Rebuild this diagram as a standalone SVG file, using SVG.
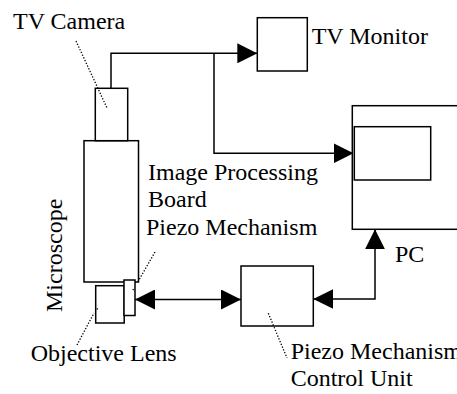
<svg xmlns="http://www.w3.org/2000/svg" width="457" height="394" viewBox="0 0 457 394" font-family="'Liberation Serif', 'Times New Roman', 'DejaVu Serif', serif" font-size="24">
<defs>
<style>
.box{fill:#fff;stroke:#000;stroke-width:1.5}
.ln{fill:none;stroke:#000;stroke-width:1.5}
.dot{fill:none;stroke:#000;stroke-width:1.3;stroke-dasharray:1.3 1.7}
.t{font-family:'Liberation Serif','Times New Roman',serif;font-size:24px;fill:#000}
</style>
<marker id="ah" viewBox="0 0 20 20" markerUnits="userSpaceOnUse" markerWidth="20" markerHeight="20" refX="20" refY="10" orient="auto-start-reverse">
<path d="M0,0 L20,10 L0,20 z" fill="#000"/>
</marker>
</defs>
<rect width="457" height="394" fill="#fff"/>
<g id="connectors">
<path class="ln" d="M111,88.3 V53.3 H257.3" marker-end="url(#ah)"/>
<path class="ln" d="M214,53.3 V153.3 H353.5" marker-end="url(#ah)"/>
<path class="ln" d="M135,299.5 H241" marker-start="url(#ah)" marker-end="url(#ah)"/>
<path class="ln" d="M313.3,299 H375 V229.3" marker-start="url(#ah)" marker-end="url(#ah)"/>
</g>
<g id="microscope">
<rect class="box" x="84" y="140.7" width="54.5" height="141.3"/>
<text class="t" transform="translate(62,312) rotate(-90)">Microscope</text>
</g>
<g id="tv-camera">
<rect class="box" x="95.3" y="88.3" width="32.4" height="52.4"/>
<path class="dot" d="M76,41 L107,108"/>
<text class="t" x="13" y="29">TV Camera</text>
</g>
<g id="objective-lens">
<rect class="box" x="95.7" y="285.7" width="28.5" height="37.3"/>
<path class="dot" d="M77,345 L94,313"/>
<path class="dot" d="M97,309.5 L98.2,307.5"/>
<text class="t" x="30.7" y="360.7">Objective Lens</text>
</g>
<g id="piezo-mechanism">
<rect class="box" x="124" y="280" width="11" height="35.5"/>
<path class="dot" d="M155,252 L137.5,282.5"/>
<path class="dot" d="M133.5,289 L132.7,290.5"/>
<text class="t" x="146" y="234.5">Piezo Mechanism</text>
</g>
<g id="image-processing-board">
<text class="t" x="148" y="180">Image Processing</text>
<text class="t" x="148" y="206.5">Board</text>
</g>
<g id="tv-monitor">
<rect class="box" x="257.3" y="17.7" width="50" height="53.3"/>
<text class="t" x="311.7" y="44">TV Monitor</text>
</g>
<g id="pc">
<rect class="box" x="352.3" y="105.7" width="120" height="123.6"/>
<rect class="box" x="354.3" y="126.7" width="76.4" height="53.3"/>
<text class="t" x="395" y="262">PC</text>
</g>
<g id="control-unit">
<rect class="box" x="241" y="266" width="72.3" height="60"/>
<path class="dot" d="M268.3,313.3 L287,358"/>
<text class="t" x="290.7" y="358.5">Piezo Mechanism</text>
<text class="t" x="290.7" y="386">Control Unit</text>
</g>
</svg>
